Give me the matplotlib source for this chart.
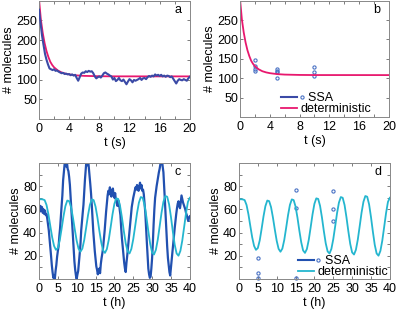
import numpy as np
import matplotlib
matplotlib.use('Agg')
import matplotlib.pyplot as plt
from matplotlib.lines import Line2D
from matplotlib.legend_handler import HandlerBase

plt.rcParams['font.family'] = ['Liberation Sans', 'DejaVu Sans']
plt.rcParams['font.size'] = 9

# ---- data -------------------------------------------------------------
# panel a: one SSA trajectory, sampled every 0.2 s
ssa_a_t = np.linspace(0, 20, 101)
ssa_a = [277, 245, 212, 188, 165, 150, 138, 128, 126, 124,
         126, 122, 123, 120, 118, 116, 117, 114, 115, 113,
         114, 111, 113, 110, 112, 104, 97, 106, 115, 118,
         117, 121, 119, 122, 120, 121, 116, 108, 103, 106,
         108, 105, 110, 116, 118, 115, 113, 110, 108, 100,
         104, 96, 99, 104, 98, 96, 100, 94, 88, 95,
         101, 98, 93, 99, 97, 99, 101, 104, 99, 103,
         104, 101, 106, 109, 107, 110, 108, 113, 110, 112,
         109, 112, 108, 110, 107, 110, 109, 106, 108, 102,
         96, 90, 97, 101, 99, 98, 101, 99, 97, 103, 107]

# deterministic decay (panels a and b)
det_ab_t = [0, 0.25, 0.5, 0.75, 1.0, 1.25, 1.5, 1.75, 2.0, 2.5, 3.0,
            3.5, 4.0, 5.0, 6.0, 8.0, 10.0, 20.0]
det_ab = [305, 252, 218, 192, 172, 157, 145, 137, 131, 123, 118,
          115, 113, 110.5, 109.3, 108.4, 108.1, 108]

# panel b: SSA samples at three time points
ssa_b_t = [2, 2, 2, 2, 5, 5, 5, 5, 10, 10, 10]
ssa_b = [147, 131, 124, 119, 123, 119, 116, 101, 130, 117, 106]

# panel c: one SSA trajectory, sampled every 0.2 h
ssa_c_t = np.linspace(0, 40, 201)
ssa_c = [61, 58, 63, 59, 62, 57, 60, 56, 59, 55,
         56, 52, 47, 42, 35, 27, 20, 12, 6, 1,
         3, 0, 7, 12, 19, 24, 28, 37, 44, 54,
         63, 72, 85, 92, 99, 104, 97, 101, 95, 93,
         88, 81, 70, 58, 48, 36, 27, 15, 8, 3,
         0, 4, 7, 14, 22, 30, 42, 50, 57, 64,
         75, 86, 95, 103, 98, 104, 97, 90, 82, 74,
         64, 52, 41, 32, 24, 17, 11, 8, 4, 7,
         9, 5, 13, 18, 22, 27, 34, 41, 50, 58,
         65, 72, 76, 73, 79, 74, 71, 76, 78, 72,
         70, 74, 68, 66, 63, 68, 66, 60, 55, 44,
         35, 28, 20, 14, 9, 6, 14, 20, 27, 35,
         41, 49, 55, 62, 66, 70, 73, 76, 79, 77,
         81, 78, 76, 80, 83, 78, 81, 76, 77, 73,
         65, 57, 44, 32, 20, 9, 4, 1, 2, 9,
         18, 31, 47, 60, 70, 75, 80, 84, 88, 92,
         95, 99, 103, 104, 97, 92, 80, 67, 54, 40,
         28, 18, 12, 6, 3, 10, 18, 25, 30, 37,
         44, 50, 56, 61, 65, 67, 63, 61, 66, 72,
         69, 66, 64, 62, 60, 57, 55, 52, 50, 53, 54]

# deterministic oscillation (panels c and d), every 0.5 h
det_cd_t = np.linspace(0, 40, 81)
det_cd = [68.5, 68.8, 68.6, 68.0, 63.8, 55.8, 45.7, 35.9, 28.5, 25.1,
          26.7, 33.3, 43.3, 54.0, 62.8, 67.6, 67.1, 61.9, 53.0, 42.6,
          32.9, 26.0, 23.5, 26.2, 33.6, 44.0, 54.9, 63.8, 68.6, 68.0,
          62.4, 53.0, 41.8, 31.7, 24.6, 22.5, 25.8, 33.7, 44.5, 55.7,
          64.8, 69.5, 69.0, 63.0, 53.0, 41.3, 30.8, 23.8, 22.0, 25.9,
          34.3, 45.3, 56.7, 65.8, 70.6, 70.0, 63.7, 53.2, 41.1, 30.2,
          22.9, 21.1, 25.1, 33.8, 45.3, 57.1, 66.5, 71.5, 70.9, 64.4,
          53.5, 40.9, 29.5, 22.0, 20.1, 24.2, 33.0, 44.8, 56.8, 66.4,
          70.0]

# panel d: SSA samples at three time points
ssa_d_t = [5, 5, 5, 15, 15, 15, 25, 25, 25]
ssa_d = [18, 5, 0.5, 77, 61, 0.8, 76, 60, 50]

blue_a = '#3b4aa6'
pink = '#e8186e'
blue_c = '#2150b0'
cyan = '#24b6cf'
dot_col = '#4a72c4'
dot_ms = 2.3


class LineDotHandler(HandlerBase):
    # legend entry: short line, then an open circle just after it
    def create_artists(self, legend, orig_handle, xdescent, ydescent,
                       width, height, fontsize, trans):
        ln, dot = orig_handle
        y = (height - ydescent) / 2
        a = Line2D([-xdescent, width - xdescent], [y, y],
                   color=ln.get_color(), lw=ln.get_linewidth())
        b = Line2D([width - xdescent + 0.35 * fontsize], [y], ls='none',
                   marker='o', mfc='none', mec=dot.get_markeredgecolor(),
                   ms=dot.get_markersize(), mew=dot.get_markeredgewidth())
        a.set_transform(trans)
        b.set_transform(trans)
        return [a, b]


def style(ax, xmax, xstep, xlabstep, ymax, ystep, ylabstep, xlabel, letter):
    ax.set_xlim(0, xmax)
    ax.set_ylim(0, ymax)
    xt = np.arange(0, xmax + 0.1, xstep)
    ax.set_xticks(xt)
    ax.set_xticklabels([f'{v:g}' if v % xlabstep == 0 else '' for v in xt])
    yt = np.arange(ystep, ymax - 0.1, ystep)
    ax.set_yticks(yt)
    ax.set_yticklabels([f'{v:g}' if v % ylabstep == 0 else '' for v in yt])
    ax.tick_params(direction='in', top=True, right=True, length=2.5,
                   width=0.6, color='#666666', labelsize=9)
    ax.tick_params(axis='x', pad=3)
    ax.tick_params(axis='y', pad=1.5)
    for s in ax.spines.values():
        s.set_color('#888888')
        s.set_linewidth(0.7)
    ax.set_xlabel(xlabel, fontsize=9, labelpad=1)
    ax.set_ylabel('# molecules', fontsize=9, labelpad=1)
    ax.text(0.92, 0.92, letter, transform=ax.transAxes, ha='center',
            va='center', fontsize=9)


fig = plt.figure(figsize=(3.99, 3.17), dpi=100)
ax_a = fig.add_axes([0.0977, 0.6246, 0.378, 0.3734])
ax_b = fig.add_axes([0.6015, 0.631, 0.3734, 0.367])
ax_c = fig.add_axes([0.0977, 0.1199, 0.378, 0.366])
ax_d = fig.add_axes([0.599, 0.1199, 0.378, 0.366])

# a
ax_a.plot(det_ab_t, det_ab, color=pink, lw=1.3, zorder=2)
ax_a.plot(ssa_a_t, ssa_a, color=blue_a, lw=1.5, zorder=3)
style(ax_a, 20, 2, 4, 300, 50, 50, 't (s)', 'a')

# b
ax_b.plot(ssa_b_t, ssa_b, ls='none', marker='o', mfc='none', mec=dot_col,
          ms=dot_ms, mew=0.8)
ax_b.plot(det_ab_t, det_ab, color=pink, lw=1.3)
style(ax_b, 20, 2, 4, 300, 50, 50, 't (s)', 'b')
h_ssa = (Line2D([], [], color=blue_a, lw=1.5),
         Line2D([], [], marker='o', mfc='none', mec=dot_col, ms=dot_ms, mew=0.8))
h_det = Line2D([], [], color=pink, lw=1.3)
ax_b.legend([h_ssa, h_det], ['  SSA', 'deterministic'],
            handler_map={tuple: LineDotHandler()}, loc='center left',
            bbox_to_anchor=(0.275, 0.115), frameon=False, borderpad=0,
            borderaxespad=0, handlelength=1.3, handletextpad=0.3,
            labelspacing=-0.1, fontsize=9)

# c
ax_c.plot(ssa_c_t, ssa_c, color=blue_c, lw=1.6)
ax_c.plot(det_cd_t, det_cd, color=cyan, lw=1.3)
style(ax_c, 40, 5, 5, 100, 10, 20, 't (h)', 'c')

# d
ax_d.plot(ssa_d_t, ssa_d, ls='none', marker='o', mfc='none', mec=dot_col,
          ms=dot_ms, mew=0.8, clip_on=False)
ax_d.plot(det_cd_t, det_cd, color=cyan, lw=1.3)
style(ax_d, 40, 5, 5, 100, 10, 20, 't (h)', 'd')
h_ssa2 = (Line2D([], [], color=blue_c, lw=1.5),
          Line2D([], [], marker='o', mfc='none', mec=dot_col, ms=dot_ms, mew=0.8))
h_det2 = Line2D([], [], color=cyan, lw=1.3)
ax_d.legend([h_ssa2, h_det2], ['  SSA', 'deterministic'],
            handler_map={tuple: LineDotHandler()}, loc='center left',
            bbox_to_anchor=(0.39, 0.105), frameon=False, borderpad=0,
            borderaxespad=0, handlelength=1.3, handletextpad=0.3,
            labelspacing=-0.1, fontsize=9)

fig.savefig('out.png', dpi=100)
